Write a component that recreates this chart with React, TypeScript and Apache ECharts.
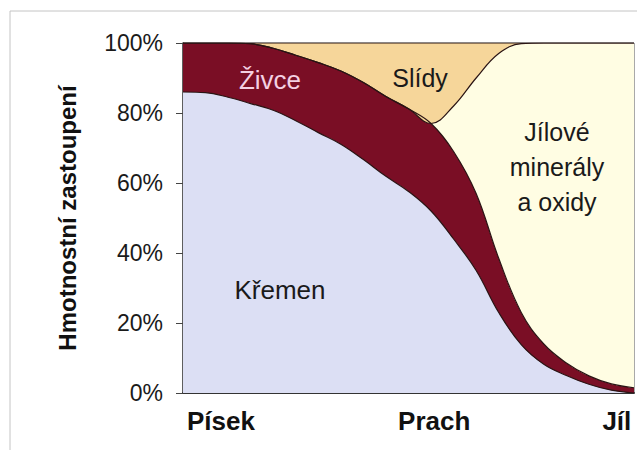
import React, { useEffect, useRef } from "react";
import * as echarts from "echarts";

// x positions along the grain-size axis (0 = Písek side, 100 = Jíl side)
const xValues = [0, 5, 10, 15, 20, 25, 30, 35, 40, 45, 50, 55, 60, 65, 70, 75, 80, 85, 90, 95, 100];
// stacked shares (%)
const kremen = [86, 85.8, 84.5, 82.7, 80.8, 77.8, 74.4, 71.1, 66.7, 61.9, 57.6, 52, 44, 35, 23, 13.8, 8.2, 5, 2.5, 0.8, 0];
const zivce = [14, 14.2, 15.5, 17.1, 17.7, 18.7, 20, 20.9, 22, 22.8, 23.6, 25, 25, 22, 15.5, 9.2, 5.8, 3.6, 2.4, 1.8, 1.5];
const jilove = [0, 0, 0, 0, 0, 0, 0, 0, 0, 0, 0, 0, 13, 33, 58.5, 76.8, 86, 91.4, 95.1, 97.4, 98.5];
const slidy = [0, 0, 0, 0.2, 1.5, 3.5, 5.6, 8, 11.3, 15.3, 18.8, 23, 18, 10, 3, 0.2, 0, 0, 0, 0, 0];

const xTickValues = [8.4, 55.7, 96.2];
const xTickLabels = ["Písek", "Prach", "Jíl"];
const yAxisName = "Hmotnostní zastoupení";

const FONT = 'Arial, "Liberation Sans", Helvetica, sans-serif';

export default function App() {
  const ref = useRef<HTMLDivElement>(null);
  useEffect(() => {
    if (!ref.current) return;
    const chart = echarts.init(ref.current, null, { renderer: "svg" });
    const edge = { color: "#2a1414", width: 1.2 };
    const mkSeries = (name: string, vals: number[], color: string) => ({
      name,
      type: "line",
      stack: "total",
      smooth: 0.4,
      symbol: "none",
      xAxisIndex: 0,
      data: vals,
      lineStyle: edge,
      areaStyle: { color, opacity: 1 },
      emphasis: { disabled: true },
    });
    chart.setOption({
      animation: false,
      backgroundColor: "#ffffff",
      grid: {
        left: 183,
        right: 3,
        top: 43,
        bottom: 57,
        show: true,
        borderColor: "#555",
        borderWidth: 1,
        backgroundColor: "transparent",
      },
      xAxis: [
        {
          type: "category",
          data: xValues.map(String),
          boundaryGap: false,
          axisLine: { show: true, lineStyle: { color: "#333", width: 2 } },
          axisTick: { show: false },
          axisLabel: { show: false },
          splitLine: { show: false },
        },
        {
          type: "value",
          min: 0,
          max: 100,
          position: "bottom",
          axisLine: { show: false },
          axisTick: { show: false },
          splitLine: { show: false },
          axisLabel: {
            customValues: xTickValues,
            formatter: (v: number) => {
              const i = xTickValues.findIndex((t) => Math.abs(t - v) < 0.01);
              return i >= 0 ? xTickLabels[i] : "";
            },
            fontFamily: FONT,
            fontWeight: "bold",
            fontSize: 26,
            color: "#111",
            margin: 15,
          },
        },
      ],
      yAxis: {
        type: "value",
        min: 0,
        max: 100,
        interval: 20,
        name: yAxisName,
        nameLocation: "middle",
        nameGap: 104,
        nameTextStyle: { fontFamily: FONT, fontWeight: "bold", fontSize: 24, color: "#111" },
        axisLine: { show: true, lineStyle: { color: "#444", width: 1.5 } },
        axisTick: { show: true, length: 7, lineStyle: { color: "#444" } },
        splitLine: { show: false },
        axisLabel: {
          formatter: "{value}%",
          fontFamily: FONT,
          fontSize: 23,
          color: "#1a1a1a",
          margin: 20,
        },
      },
      series: [
        mkSeries("Křemen", kremen, "#dcdff4"),
        mkSeries("Živce", zivce, "#7a0e25"),
        mkSeries("Jílové minerály a oxidy", jilove, "#fffde3"),
        mkSeries("Slídy", slidy, "#f6d69a"),
      ],
      graphic: [
        {
          type: "rect",
          z: -10,
          shape: { x: 10, y: 11, width: 700, height: 500 },
          style: { fill: "none", stroke: "#c4c4c4", lineWidth: 1 },
        },
        {
          type: "text",
          z: 100,
          x: 270,
          y: 80,
          style: { text: "Živce", fill: "#f4d0e2", font: `26px ${FONT}`, align: "center", verticalAlign: "middle" },
        },
        {
          type: "text",
          z: 100,
          x: 420,
          y: 78,
          style: { text: "Slídy", fill: "#1a1a1a", font: `25px ${FONT}`, align: "center", verticalAlign: "middle" },
        },
        {
          type: "text",
          z: 100,
          x: 557,
          y: 167,
          style: {
            text: "Jílové\nminerály\na oxidy",
            fill: "#1a1a1a",
            font: `25px ${FONT}`,
            lineHeight: 35,
            align: "center",
            verticalAlign: "middle",
          },
        },
        {
          type: "text",
          z: 100,
          x: 280,
          y: 290,
          style: { text: "Křemen", fill: "#1a1a1a", font: `26px ${FONT}`, align: "center", verticalAlign: "middle" },
        },
      ],
    });
    return () => chart.dispose();
  }, []);
  return (
    <div
      ref={ref}
      style={{ position: "fixed", left: 0, top: 0, width: 637, height: 450 }}
    />
  );
}
